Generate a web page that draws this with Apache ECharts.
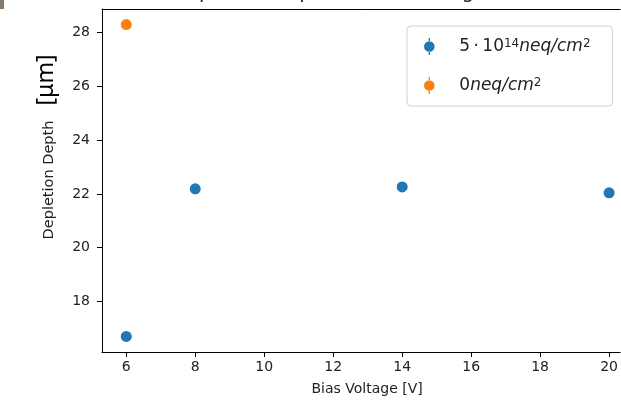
<!DOCTYPE html>
<html>
<head>
<meta charset="utf-8">
<script src="https://cdn.jsdelivr.net/npm/echarts@6.0.0/dist/echarts.min.js"></script>
<style>
  html, body { margin: 0; padding: 0; background: #fff; }
  #chart { width: 621px; height: 401px; }
</style>
</head>
<body>
<div id="chart"></div>
<script>
// data
var irradiatedVoltage = [6, 8, 14, 20];
var irradiatedDepth = [16.70, 22.19, 22.26, 22.04];
var pristineVoltage = [6];
var pristineDepth = [28.30];
var xTicks = [6, 8, 10, 12, 14, 16, 18, 20];
var yTicks = [18, 20, 22, 24, 26, 28];

var BLUE = '#1f77b4';
var ORANGE = '#ff7f0e';
var TXT = '#222';
var FONT = 'DejaVu Sans';

function pairs(xs, ys) {
    return xs.map(function (x, i) { return [x, ys[i]]; });
}

// marker with tiny error bar stubs, like the matplotlib errorbar legend handle
var errIcon = 'path://M4.4,0 L5.6,0 L5.6,3.5 L4.4,3.5 Z M4.4,12.5 L5.6,12.5 L5.6,16 L4.4,16 Z M0,8 A5,5 0 1,0 10,8 A5,5 0 1,0 0,8 Z';

var labels = {
    'irr': '{n|5\u2009·\u200910}{s|14}{i|neq/cm}{s|2}',
    'pri': '{n|0}{i|neq/cm}{s|2}'
};

var chart = echarts.init(document.getElementById('chart'), null, { renderer: 'canvas' });

// the plot is cut at the right edge of the picture, so the axis stops at x = 20.32
chart.setOption({
    animation: false,
    backgroundColor: '#fff',
    textStyle: { fontFamily: FONT },
    grid: { left: 102, top: 9, right: 0, bottom: 48, show: false },
    xAxis: [{
        type: 'value',
        min: 5.296, max: 20.32,
        name: 'Bias Voltage [V]',
        nameLocation: 'middle',
        nameGap: 30,
        nameTextStyle: { color: TXT, fontSize: 14, fontFamily: FONT, padding: [0, 0, 0, 12] },
        axisLine: { show: true, onZero: false, lineStyle: { color: '#000', width: 1 } },
        axisTick: { show: true, length: 5, customValues: xTicks, lineStyle: { color: '#000' } },
        axisLabel: { customValues: xTicks, color: TXT, fontSize: 14, fontFamily: FONT, margin: 8 },
        splitLine: { show: false }
    }, {
        type: 'value', position: 'top',
        min: 5.296, max: 20.32,
        axisLine: { show: true, onZero: false, lineStyle: { color: '#000', width: 1 } },
        axisTick: { show: false }, axisLabel: { show: false }, splitLine: { show: false }
    }],
    yAxis: {
        type: 'value',
        min: 16.12, max: 28.88,
        axisLine: { show: true, onZero: false, lineStyle: { color: '#000', width: 1 } },
        axisTick: { show: true, length: 5, customValues: yTicks, lineStyle: { color: '#000' } },
        axisLabel: { customValues: yTicks, color: TXT, fontSize: 14, fontFamily: FONT, margin: 12 },
        splitLine: { show: false }
    },
    legend: {
        orient: 'vertical',
        left: 407, top: 26,
        padding: [12, 22, 12, 17],
        itemGap: 22,
        itemWidth: 12, itemHeight: 17,
        backgroundColor: 'rgba(255,255,255,0.8)',
        borderColor: '#d0d0d0', borderWidth: 1, borderRadius: 4,
        data: [
            { name: 'irr', icon: errIcon },
            { name: 'pri', icon: errIcon }
        ],
        formatter: function (name) { return labels[name]; },
        textStyle: {
            color: TXT,
            rich: {
                n: { fontSize: 17, fontFamily: FONT, color: TXT, padding: [0, 0, 0, 19] },
                i: { fontSize: 17, fontFamily: FONT, fontStyle: 'italic', color: TXT },
                s: { fontSize: 12, fontFamily: FONT, color: TXT, verticalAlign: 'top' }
            }
        }
    },
    graphic: [
        { type: 'rect', left: 0, top: 0, shape: { width: 4, height: 9 }, style: { fill: '#857b6d' } },
        {
            type: 'text', x: 172, y: 3,
            style: { text: 'Depletion Depth vs Bias Voltage', fontSize: 19.5, fontFamily: FONT,
                     fill: TXT, align: 'left', verticalAlign: 'bottom' }
        },
        {
            type: 'text', x: 49, y: 180, rotation: Math.PI / 2,
            style: { text: 'Depletion Depth', fontSize: 14.5, fontFamily: FONT, fill: TXT,
                     align: 'center', verticalAlign: 'middle' }
        },
        {
            type: 'text', x: 46, y: 80, rotation: Math.PI / 2,
            style: { text: '[μm]', fontSize: 23, fontFamily: 'Noto Sans', fill: '#000',
                     align: 'center', verticalAlign: 'middle' }
        }
    ],
    series: [
        {
            name: 'irr', type: 'scatter', symbol: 'circle', symbolSize: 11,
            itemStyle: { color: BLUE, opacity: 1 },
            data: pairs(irradiatedVoltage, irradiatedDepth)
        },
        {
            name: 'pri', type: 'scatter', symbol: 'circle', symbolSize: 11,
            itemStyle: { color: ORANGE, opacity: 1 },
            data: pairs(pristineVoltage, pristineDepth)
        }
    ]
});
</script>
</body>
</html>
